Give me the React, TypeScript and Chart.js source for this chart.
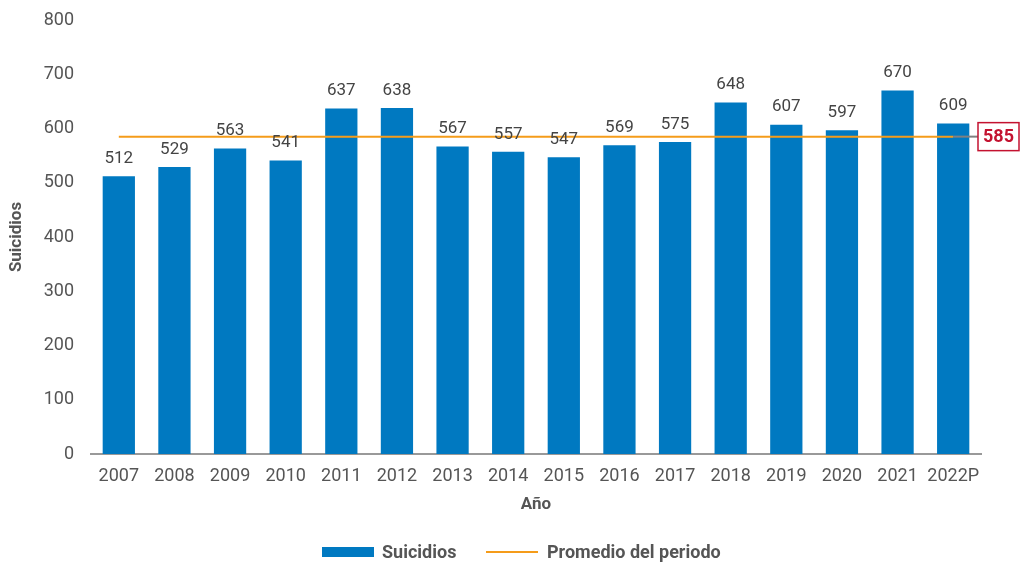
import React, { useEffect, useRef } from "react";
import { Chart, registerables } from "chart.js";

Chart.register(...registerables);

const categories = ["2007","2008","2009","2010","2011","2012","2013","2014","2015","2016","2017","2018","2019","2020","2021","2022P"];
const suicidios = [512,529,563,541,637,638,567,557,547,569,575,648,607,597,670,609];
const promedio = 585;
const promedioSeries = categories.map(() => promedio);
const yTicks = [0,100,200,300,400,500,600,700,800];

const BAR = "#0079c1";
const ORANGE = "#f59c1a";
const RED = "#c41230";
const TXT = "#555555";
const FONT = "Roboto, 'Noto Sans', sans-serif";

const overlay = {
  id: "overlay",
  afterDatasetsDraw(chart: any) {
    const { ctx } = chart;
    const x = chart.scales.x;
    const y = chart.scales.y;
    const meta = chart.getDatasetMeta(0);
    ctx.save();
    ctx.font = `17px ${FONT}`;
    ctx.fillStyle = "#444444";
    ctx.textAlign = "center";
    ctx.textBaseline = "bottom";
    meta.data.forEach((bar: any, i: number) => {
      ctx.fillText(String(suicidios[i]), bar.x, bar.y - 9);
    });
    // gray connector and value box
    const yy = y.getPixelForValue(promedio);
    const lastX = x.getPixelForValue(categories.length - 1);
    const boxX = 978;
    ctx.strokeStyle = "#808080";
    ctx.lineWidth = 2;
    ctx.beginPath();
    ctx.moveTo(lastX, yy);
    ctx.lineTo(boxX, yy);
    ctx.stroke();
    const bw = 41, bh = 28;
    ctx.fillStyle = "#ffffff";
    ctx.fillRect(boxX, yy - bh / 2, bw, bh);
    ctx.strokeStyle = RED;
    ctx.lineWidth = 1.5;
    ctx.strokeRect(boxX, yy - bh / 2, bw, bh);
    ctx.fillStyle = RED;
    ctx.font = `bold 18px ${FONT}`;
    ctx.textBaseline = "middle";
    ctx.fillText(String(promedio), boxX + bw / 2, yy + 1);
    // legend
    const ly = 552;
    ctx.font = `bold 18px ${FONT}`;
    ctx.textAlign = "left";
    ctx.fillStyle = BAR;
    ctx.fillRect(322, ly - 5, 52, 10);
    ctx.fillStyle = TXT;
    ctx.fillText("Suicidios", 382, ly + 1);
    ctx.strokeStyle = ORANGE;
    ctx.lineWidth = 2;
    ctx.beginPath();
    ctx.moveTo(486, ly);
    ctx.lineTo(538, ly);
    ctx.stroke();
    ctx.fillText("Promedio del periodo", 547, ly + 1);
    ctx.restore();
  },
};

export default function App() {
  const ref = useRef<HTMLCanvasElement | null>(null);
  useEffect(() => {
    document.body.style.margin = "0";
    if (!ref.current) return;
    const chart = new Chart(ref.current, {
      type: "bar",
      data: {
        labels: categories,
        datasets: [
          {
            type: "bar",
            label: "Suicidios",
            data: suicidios,
            backgroundColor: BAR,
            barPercentage: 0.58,
            categoryPercentage: 1,
            order: 2,
          },
          {
            type: "line",
            label: "Promedio del periodo",
            data: promedioSeries,
            borderColor: ORANGE,
            borderWidth: 2,
            pointRadius: 0,
            order: 1,
          },
        ] as any,
      },
      options: {
        animation: false,
        responsive: true,
        maintainAspectRatio: false,
        layout: { padding: { top: 20, right: 40, left: 0, bottom: 43 } },
        plugins: {
          legend: { display: false },
          tooltip: { enabled: false },
        },
        scales: {
          x: {
            afterFit: (axis: any) => { axis.height = 66; },
            grid: { display: false, drawTicks: false },
            border: { display: true, color: "#999999", width: 2 },
            ticks: { color: TXT, font: { size: 18, family: FONT }, padding: 12, maxRotation: 0, minRotation: 0, autoSkip: false },
            title: { display: true, text: "Año", color: TXT, font: { size: 17, weight: "bold", family: FONT }, padding: { top: 0, bottom: 5 } },
          },
          y: {
            min: 0,
            max: 800,
            afterFit: (axis: any) => { axis.width = 91; axis.paddingTop = 0; axis.paddingBottom = 0; },
            afterBuildTicks: (axis: any) => { axis.ticks = yTicks.map((v) => ({ value: v })); },
            grid: { display: false, drawTicks: false },
            border: { display: false },
            ticks: { color: TXT, font: { size: 18, family: FONT }, padding: 17 },
            title: { display: true, text: "Suicidios", color: TXT, font: { size: 17, weight: "bold", family: FONT }, padding: { top: 7, bottom: 0 } },
          },
        },
      } as any,
      plugins: [overlay],
    });
    return () => chart.destroy();
  }, []);
  return (
    <div style={{ width: 1021, height: 563, position: "relative" }}>
      <canvas ref={ref} />
    </div>
  );
}
